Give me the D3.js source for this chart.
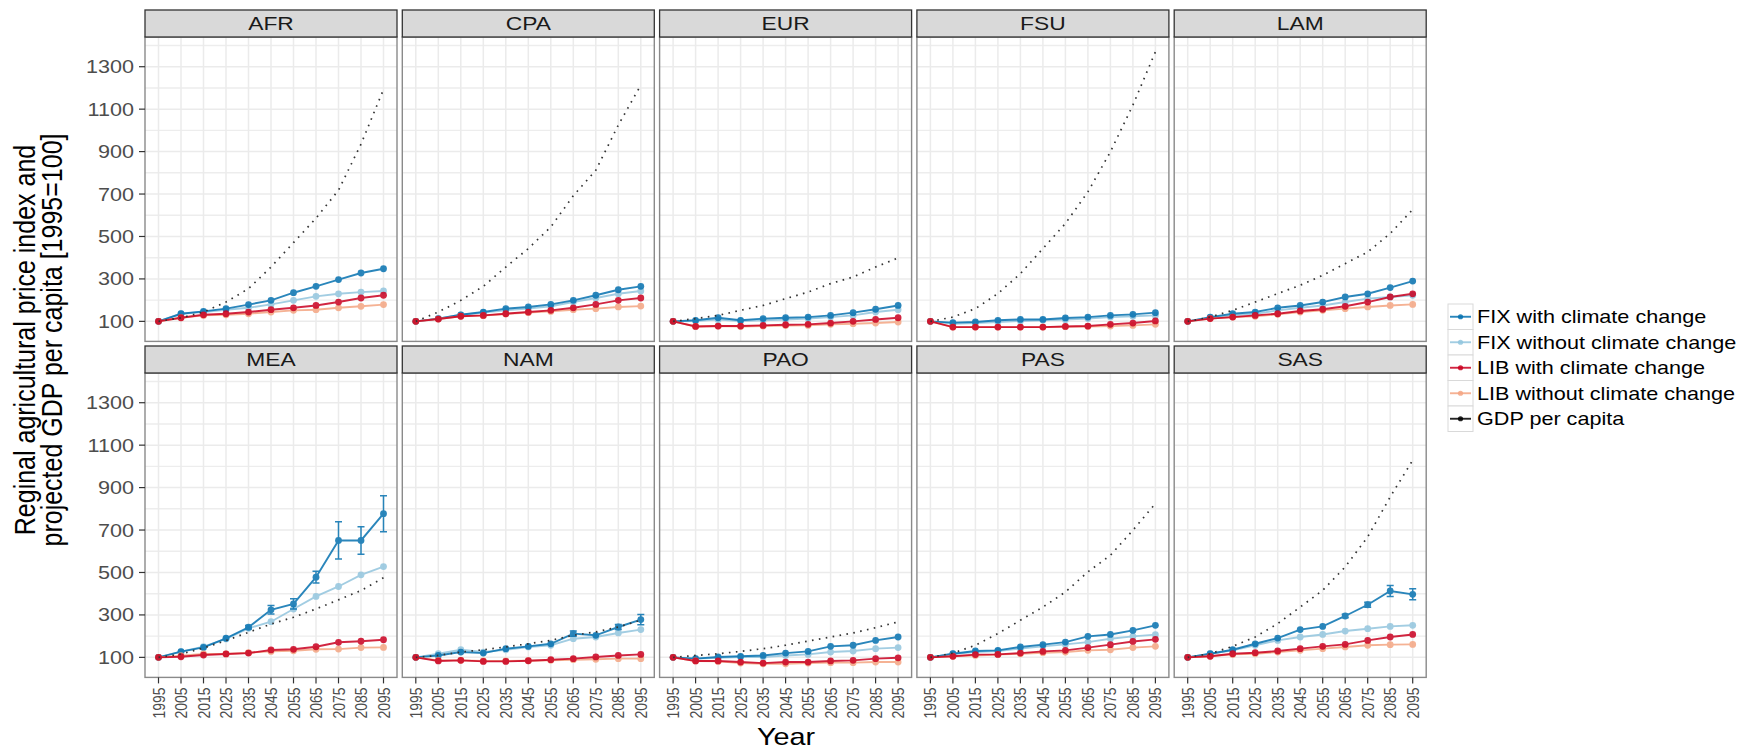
<!DOCTYPE html>
<html>
<head>
<meta charset="utf-8">
<script src="https://cdn.jsdelivr.net/npm/d3@7"></script>
<style>
  body { margin: 0; background: #fff; }
  svg { font-family: "Liberation Sans", Arial, Helvetica, sans-serif; }
</style>
</head>
<body>
<svg id="viz" width="1748" height="749"></svg>
<script>
// ---- data ----
var regions = [ 'AFR', 'CPA', 'EUR', 'FSU', 'LAM', 'MEA', 'NAM', 'PAO', 'PAS', 'SAS' ];
var years = [ 1995, 2005, 2015, 2025, 2035, 2045, 2055, 2065, 2075, 2085, 2095 ];
var yTicks = [ 100, 300, 500, 700, 900, 1100, 1300 ];
var seriesNames = [ 'FIX with climate change', 'FIX without climate change', 'LIB with climate change', 'LIB without climate change', 'GDP per capita' ];
var seriesColors = [ '#0571b0', '#92c5de', '#ca0020', '#f4a582', '#000000' ];

// one row per region, same order as `regions`
var fixCC = [
	[ 100, 136, 147, 160, 179, 199, 235, 265, 297, 328, 348 ],
	[ 100, 113, 131, 144, 160, 168, 180, 199, 223, 249, 265 ],
	[ 100, 105, 117, 105, 113, 117, 120, 128, 141, 157, 175 ],
	[ 100, 94, 97, 105, 109, 109, 116, 120, 128, 133, 141 ],
	[ 100, 120, 136, 144, 164, 175, 191, 215, 230, 259, 290 ],
	[ 100, 127, 147, 190, 242, 324, 352, 478, 651, 651, 777 ],
	[ 100, 109, 125, 120, 141, 152, 164, 212, 204, 243, 278 ],
	[ 100, 94, 102, 105, 109, 120, 128, 152, 157, 180, 196 ],
	[ 100, 117, 130, 133, 149, 160, 172, 199, 208, 227, 251 ],
	[ 100, 117, 136, 164, 191, 231, 246, 295, 348, 413, 397 ]
];
var fixCCErr = [
	[ 0, 0, 0, 0, 0, 0, 0, 0, 0, 0, 0 ],
	[ 0, 0, 0, 0, 0, 0, 0, 0, 0, 0, 0 ],
	[ 0, 0, 0, 0, 0, 0, 0, 0, 0, 0, 0 ],
	[ 0, 0, 0, 0, 0, 0, 0, 0, 0, 0, 0 ],
	[ 0, 0, 0, 0, 0, 0, 0, 0, 0, 0, 0 ],
	[ 0, 0, 0, 0, 8, 20, 24, 28, 88, 65, 85 ],
	[ 0, 0, 0, 0, 0, 0, 0, 12, 0, 12, 24 ],
	[ 0, 0, 0, 0, 0, 0, 0, 0, 0, 0, 0 ],
	[ 0, 0, 0, 0, 0, 0, 0, 0, 0, 0, 0 ],
	[ 0, 0, 0, 0, 0, 0, 0, 8, 12, 26, 26 ]
];
var fixNoCC = [
	[ 100, 136, 144, 155, 164, 180, 199, 218, 230, 238, 243 ],
	[ 100, 113, 131, 141, 152, 160, 171, 191, 210, 230, 243 ],
	[ 100, 102, 108, 102, 105, 109, 113, 120, 128, 144, 155 ],
	[ 100, 89, 92, 97, 102, 105, 108, 113, 120, 124, 128 ],
	[ 100, 117, 128, 136, 152, 164, 175, 191, 207, 215, 223 ],
	[ 100, 127, 150, 187, 237, 268, 328, 387, 434, 489, 528 ],
	[ 100, 117, 136, 125, 136, 149, 157, 188, 196, 215, 231 ],
	[ 100, 94, 98, 102, 102, 109, 114, 125, 130, 141, 146 ],
	[ 100, 117, 125, 130, 141, 152, 161, 172, 188, 199, 207 ],
	[ 100, 117, 133, 157, 180, 196, 208, 224, 235, 246, 251 ]
];
var libCC = [
	[ 100, 117, 131, 136, 144, 155, 164, 175, 191, 210, 223 ],
	[ 100, 111, 124, 128, 136, 144, 152, 164, 180, 199, 210 ],
	[ 100, 76, 78, 78, 81, 84, 86, 92, 100, 109, 117 ],
	[ 100, 73, 73, 73, 73, 73, 76, 78, 86, 92, 102 ],
	[ 100, 113, 120, 128, 136, 149, 157, 171, 191, 215, 230 ],
	[ 100, 103, 111, 116, 120, 135, 138, 150, 171, 176, 183 ],
	[ 100, 83, 86, 81, 81, 84, 89, 94, 102, 109, 114 ],
	[ 100, 83, 83, 78, 73, 78, 78, 83, 86, 94, 98 ],
	[ 100, 105, 113, 114, 120, 128, 133, 146, 160, 175, 185 ],
	[ 100, 105, 117, 122, 130, 141, 152, 161, 180, 196, 208 ]
];
var libNoCC = [
	[ 100, 117, 128, 131, 136, 144, 152, 155, 164, 171, 179 ],
	[ 100, 111, 124, 127, 135, 141, 147, 155, 160, 168, 172 ],
	[ 100, 76, 78, 76, 78, 80, 81, 86, 89, 92, 97 ],
	[ 100, 73, 73, 73, 73, 73, 75, 76, 78, 81, 86 ],
	[ 100, 113, 120, 124, 133, 144, 152, 160, 168, 175, 180 ],
	[ 100, 108, 116, 116, 122, 128, 131, 138, 139, 146, 147 ],
	[ 100, 86, 86, 83, 83, 84, 86, 89, 91, 94, 94 ],
	[ 100, 83, 81, 73, 70, 70, 73, 75, 75, 78, 78 ],
	[ 100, 105, 109, 113, 117, 122, 125, 133, 136, 146, 152 ],
	[ 100, 105, 114, 117, 125, 133, 141, 149, 157, 160, 161 ]
];
var gdp = [
	[ 100, 117, 144, 191, 254, 356, 471, 586, 718, 935, 1193 ],
	[ 100, 144, 199, 265, 356, 443, 545, 692, 812, 1025, 1213 ],
	[ 100, 113, 128, 152, 175, 207, 238, 278, 309, 356, 399 ],
	[ 100, 120, 160, 231, 325, 443, 561, 710, 899, 1119, 1370 ],
	[ 100, 120, 152, 191, 231, 270, 317, 372, 427, 514, 627 ],
	[ 100, 116, 144, 179, 218, 257, 289, 328, 371, 415, 475 ],
	[ 100, 109, 125, 136, 149, 164, 180, 204, 220, 243, 275 ],
	[ 100, 109, 117, 128, 141, 157, 177, 196, 215, 240, 267 ],
	[ 100, 120, 157, 212, 275, 337, 408, 503, 581, 699, 825 ],
	[ 100, 117, 152, 196, 259, 337, 416, 526, 668, 856, 1029 ]
];

// ---- layout ----
var left = 145, panelW = 252, gapX = 5.3;
var rowTop = [ 10, 346 ], stripH = 27, panelH = 304.4;
var stretch = 'scale(1.2,1)';

var svg = d3.select( '#viz' );

var x = d3.scaleLinear().domain( [ 1989, 2101 ] ).range( [ 0, panelW ] );
var y = d3.scaleLinear().domain( [ 5.6, 1440 ] ).range( [ panelH, 0 ] );

var yMinor = d3.range( 200, 1401, 200 );

var line = d3.line()
	.x( function ( d ) { return x( d.year ); } )
	.y( function ( d ) { return y( d.value ); } );

// helper for text that is a bit wider than tall, like the reference
function label( parent, tx, ty, str, size, anchor, rotate ) {
	var g = parent.append( 'g' ).attr( 'transform', 'translate(' + tx + ',' + ty + ') ' + stretch );
	var t = g.append( 'text' )
		.attr( 'font-size', size )
		.attr( 'text-anchor', anchor )
		.text( str );
	if ( rotate ) t.attr( 'transform', 'rotate(-90)' );
	return t;
}

// order of drawing: light series first, GDP on top
var drawOrder = [ 1, 0, 3, 2, 4 ];

regions.forEach( function ( region, i ) {
	var row = Math.floor( i / 5 ), col = i % 5;
	var px = left + col * ( panelW + gapX );
	var py = rowTop[row] + stripH;

	var g = svg.append( 'g' ).attr( 'transform', 'translate(' + px + ',' + py + ')' );

	// strip
	svg.append( 'rect' )
		.attr( 'x', px ).attr( 'y', rowTop[row] )
		.attr( 'width', panelW ).attr( 'height', stripH )
		.attr( 'fill', '#d9d9d9' ).attr( 'stroke', '#333' ).attr( 'stroke-width', 1.3 );
	label( svg, px + panelW / 2, rowTop[row] + stripH / 2, region, 19, 'middle' )
		.attr( 'dy', '0.36em' ).attr( 'fill', '#1a1a1a' );

	// grid
	g.selectAll( 'line.hminor' ).data( yMinor ).enter().append( 'line' )
		.attr( 'y1', y ).attr( 'y2', y ).attr( 'x1', 0 ).attr( 'x2', panelW )
		.attr( 'stroke', '#ededed' ).attr( 'stroke-width', 1.4 );
	g.selectAll( 'line.vmajor' ).data( years ).enter().append( 'line' )
		.attr( 'x1', x ).attr( 'x2', x ).attr( 'y1', 0 ).attr( 'y2', panelH )
		.attr( 'stroke', '#ebebeb' ).attr( 'stroke-width', 1.5 );
	g.selectAll( 'line.hmajor' ).data( yTicks ).enter().append( 'line' )
		.attr( 'y1', y ).attr( 'y2', y ).attr( 'x1', 0 ).attr( 'x2', panelW )
		.attr( 'stroke', '#ebebeb' ).attr( 'stroke-width', 1.5 );

	var all = [ fixCC[i], fixNoCC[i], libCC[i], libNoCC[i], gdp[i] ];

	drawOrder.forEach( function ( s ) {
		var pts = years.map( function ( yr, k ) { return { year: yr, value: all[s][k], err: s === 0 ? fixCCErr[i][k] : 0 }; } );
		if ( s === 4 ) {
			g.append( 'path' ).datum( pts )
				.attr( 'd', line )
				.attr( 'fill', 'none' )
				.attr( 'stroke', '#333' )
				.attr( 'stroke-width', 1.7 )
				.attr( 'stroke-dasharray', '1.6,5.4' );
			return;
		}
		var sg = g.append( 'g' ).attr( 'opacity', 0.85 );
		sg.append( 'path' ).datum( pts )
			.attr( 'd', line )
			.attr( 'fill', 'none' )
			.attr( 'stroke', seriesColors[s] )
			.attr( 'stroke-width', 1.9 );
		var bars = pts.filter( function ( d ) { return d.err > 0; } );
		sg.selectAll( 'path.err' ).data( bars ).enter().append( 'path' )
			.attr( 'd', function ( d ) {
				var cx = x( d.year ), y0 = y( d.value - d.err ), y1 = y( d.value + d.err );
				return 'M' + ( cx - 3.5 ) + ',' + y1 + 'H' + ( cx + 3.5 ) + 'M' + cx + ',' + y1 + 'V' + y0 + 'M' + ( cx - 3.5 ) + ',' + y0 + 'H' + ( cx + 3.5 );
			} )
			.attr( 'fill', 'none' )
			.attr( 'stroke', seriesColors[s] )
			.attr( 'stroke-width', 1.5 );
		sg.selectAll( 'circle' ).data( pts ).enter().append( 'circle' )
			.attr( 'cx', function ( d ) { return x( d.year ); } )
			.attr( 'cy', function ( d ) { return y( d.value ); } )
			.attr( 'r', 3.4 )
			.attr( 'fill', seriesColors[s] );
	} );

	// border
	g.append( 'rect' )
		.attr( 'width', panelW ).attr( 'height', panelH )
		.attr( 'fill', 'none' ).attr( 'stroke', '#8a8a8a' ).attr( 'stroke-width', 1.4 );

	// y axis on the first column
	if ( col === 0 ) {
		yTicks.forEach( function ( t ) {
			g.append( 'line' )
				.attr( 'x1', -6 ).attr( 'x2', 0 ).attr( 'y1', y( t ) ).attr( 'y2', y( t ) )
				.attr( 'stroke', '#333' ).attr( 'stroke-width', 1.2 );
			label( svg, px - 11, py + y( t ), t, 18, 'end' )
				.attr( 'dy', '0.36em' ).attr( 'fill', '#4d4d4d' );
		} );
	}
	// x axis on the bottom row
	if ( row === 1 ) {
		years.forEach( function ( t ) {
			g.append( 'line' )
				.attr( 'x1', x( t ) ).attr( 'x2', x( t ) ).attr( 'y1', panelH ).attr( 'y2', panelH + 6 )
				.attr( 'stroke', '#333' ).attr( 'stroke-width', 1.2 );
			label( svg, px + x( t ), py + panelH + 10, t, 14, 'end', true )
				.attr( 'dy', '0.36em' ).attr( 'fill', '#4d4d4d' );
		} );
	}
} );

// axis titles
label( svg, 786, 745, 'Year', 24, 'middle' ).attr( 'fill', '#000' );
label( svg, 35, 340, 'Reginal agricultural price index and', 25, 'middle', true ).attr( 'fill', '#000' );
label( svg, 62, 340, 'projected GDP per capita [1995=100]', 25, 'middle', true ).attr( 'fill', '#000' );

// legend
var legendX = 1448, legendY = 304, keyW = 25, keyH = 25.5;
var leg = svg.append( 'g' );
seriesNames.forEach( function ( name, s ) {
	var ky = legendY + s * keyH;
	leg.append( 'rect' )
		.attr( 'x', legendX ).attr( 'y', ky ).attr( 'width', keyW ).attr( 'height', keyH )
		.attr( 'fill', '#fff' ).attr( 'stroke', '#d9d9d9' ).attr( 'stroke-width', 1 );
	leg.append( 'line' )
		.attr( 'x1', legendX + 2 ).attr( 'x2', legendX + keyW - 2 )
		.attr( 'y1', ky + keyH / 2 ).attr( 'y2', ky + keyH / 2 )
		.attr( 'stroke', seriesColors[s] ).attr( 'stroke-width', 1.9 ).attr( 'opacity', 0.85 );
	leg.append( 'circle' )
		.attr( 'cx', legendX + keyW / 2 ).attr( 'cy', ky + keyH / 2 ).attr( 'r', 2.6 )
		.attr( 'fill', seriesColors[s] ).attr( 'opacity', 0.85 );
	label( leg, legendX + keyW + 4, ky + keyH / 2, name, 18, 'start' )
		.attr( 'dy', '0.36em' ).attr( 'fill', '#000' );
} );
</script>
</body>
</html>
